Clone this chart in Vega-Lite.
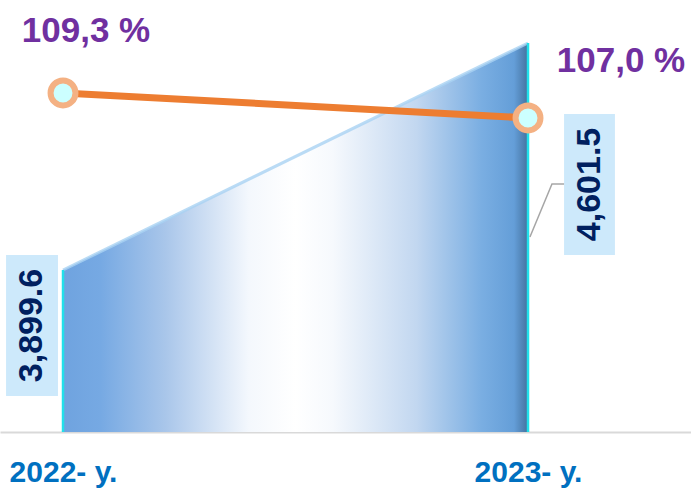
{
  "$schema": "https://vega.github.io/schema/vega-lite/v6.json",
  "width": 691,
  "height": 432,
  "autosize": {"type": "none"},
  "padding": {"top": 0, "left": 0, "right": 0, "bottom": 56},
  "background": "white",
  "config": {"view": {"stroke": null}, "font": "Liberation Sans"},
  "data": {
    "values": [
      {"year": 2022, "value": 3899.6, "growth": 109.3, "growthLabel": "109,3 %"},
      {"year": 2023, "value": 4601.5, "growth": 107.0, "growthLabel": "107,0 %"}
    ]
  },
  "encoding": {
    "x": {
      "field": "year",
      "type": "quantitative",
      "scale": {"domain": [2021.8645, 2023.3505], "nice": false, "zero": false},
      "axis": {
        "values": [2022, 2023],
        "labelExpr": "datum.value + '- y.'",
        "ticks": false,
        "grid": false,
        "title": null,
        "domainColor": "#d9d9d9",
        "domainWidth": 2,
        "labelColor": "#0070c0",
        "labelFontSize": 30,
        "labelFontWeight": "bold",
        "labelFont": "Liberation Sans",
        "labelPadding": 25,
        "labelFlush": false,
        "labelOverlap": false
      }
    }
  },
  "layer": [
    {
      "encoding": {
        "y": {
          "field": "value",
          "type": "quantitative",
          "scale": {"domain": [3398.7, 4734.4], "nice": false, "zero": false},
          "axis": null
        }
      },
      "layer": [
        {
          "mark": {
            "type": "area",
            "fill": {
              "gradient": "linear",
              "x1": 0, "x2": 1, "y1": 0, "y2": 0,
              "stops": [
                {"offset": 0, "color": "#6fa3df"},
                {"offset": 0.08, "color": "#76a9e3"},
                {"offset": 0.22, "color": "#a9c6ea"},
                {"offset": 0.4, "color": "#f4f8fd"},
                {"offset": 0.5, "color": "#ffffff"},
                {"offset": 0.58, "color": "#f6f9fd"},
                {"offset": 0.76, "color": "#c2d7f0"},
                {"offset": 0.9, "color": "#7aaee2"},
                {"offset": 0.97, "color": "#649ed8"},
                {"offset": 1, "color": "#44729f"}
              ]
            }
          },
          "encoding": {"y2": {"datum": 3398.7}}
        },
        {
          "mark": {"type": "line", "stroke": "#a9d2f2", "strokeWidth": 3, "opacity": 0.8}
        },
        {
          "mark": {"type": "rule", "stroke": "#22e0ea", "strokeWidth": 2.5},
          "encoding": {"y2": {"datum": 3398.7}}
        },
        {
          "transform": [{"filter": "datum.year == 2022"}],
          "mark": {
            "type": "point",
            "shape": "M-0.452,-0.119L-0.040,-0.119L-0.040,1L-0.452,1Z",
            "size": 63504,
            "filled": true,
            "fill": "#cde9fb",
            "strokeWidth": 0,
            "opacity": 1
          }
        },
        {
          "transform": [{"filter": "datum.year == 2023"}],
          "mark": {
            "type": "point",
            "shape": "M0.170,0.335L0.410,0.335L0.410,1L0.170,1Z",
            "size": 179776,
            "filled": true,
            "fill": "#cde9fb",
            "strokeWidth": 0,
            "opacity": 1
          }
        },
        {
          "transform": [{"filter": "datum.year == 2023"}],
          "mark": {
            "type": "point",
            "shape": "M0.009,0.915L0.113,0.665L0.170,0.665",
            "size": 179776,
            "filled": false,
            "fill": null,
            "stroke": "#a6a6a6",
            "strokeWidth": 1.5,
            "opacity": 1
          }
        },
        {
          "transform": [{"filter": "datum.year == 2022"}],
          "mark": {
            "type": "text",
            "angle": 270,
            "align": "center",
            "baseline": "middle",
            "dx": -55.5,
            "dy": -31,
            "fontSize": 34,
            "fontWeight": "bold",
            "color": "#002060"
          },
          "encoding": {"text": {"field": "value", "type": "quantitative", "format": ",.1f"}}
        },
        {
          "transform": [{"filter": "datum.year == 2023"}],
          "mark": {
            "type": "text",
            "angle": 270,
            "align": "center",
            "baseline": "middle",
            "dx": -141.5,
            "dy": 61.5,
            "fontSize": 34,
            "fontWeight": "bold",
            "color": "#002060"
          },
          "encoding": {"text": {"field": "value", "type": "quantitative", "format": ",.1f"}}
        }
      ]
    },
    {
      "encoding": {
        "y": {
          "field": "growth",
          "type": "quantitative",
          "scale": {"domain": [78.11, 117.85], "nice": false, "zero": false},
          "axis": null
        }
      },
      "layer": [
        {"mark": {"type": "line", "stroke": "#ed7d31", "strokeWidth": 7}},
        {
          "mark": {
            "type": "point",
            "filled": true,
            "fill": "#ccffff",
            "stroke": "#f4b183",
            "strokeWidth": 6,
            "size": 620,
            "opacity": 1
          }
        },
        {
          "transform": [{"filter": "datum.year == 2022"}],
          "mark": {
            "type": "text",
            "align": "center",
            "baseline": "alphabetic",
            "dx": 23,
            "dy": -51,
            "fontSize": 35,
            "fontWeight": "bold",
            "color": "#7030a0"
          },
          "encoding": {"text": {"field": "growthLabel", "type": "nominal"}}
        },
        {
          "transform": [{"filter": "datum.year == 2023"}],
          "mark": {
            "type": "text",
            "align": "center",
            "baseline": "alphabetic",
            "dx": 93,
            "dy": -46,
            "fontSize": 35,
            "fontWeight": "bold",
            "color": "#7030a0"
          },
          "encoding": {"text": {"field": "growthLabel", "type": "nominal"}}
        }
      ]
    }
  ],
  "resolve": {"scale": {"y": "independent"}}
}
